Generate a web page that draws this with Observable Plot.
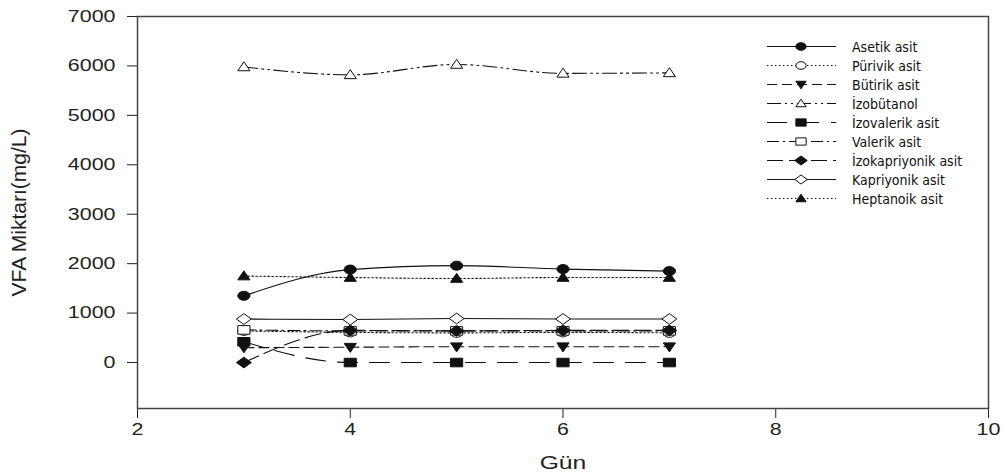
<!DOCTYPE html>
<html><head><meta charset="utf-8">
<script src="https://cdn.jsdelivr.net/npm/d3@7"></script>
<script src="https://cdn.jsdelivr.net/npm/@observablehq/plot@0.6"></script>
<style>
body{margin:0;background:#fff;}
#wrap{position:relative;width:1007px;height:476px;}
#legend{position:absolute;left:766px;top:37px;font-family:"Liberation Sans Narrow","Arial Narrow","DejaVu Sans Condensed",sans-serif;font-size:14px;color:#111;}
.row{display:flex;align-items:center;height:19px;white-space:nowrap;}
.row svg{width:72px;height:19px;margin-right:14px;flex:none;}
.row span{display:inline-block;transform-origin:left center;}
</style></head><body><div id="wrap"><div id="legend"></div></div>
<script>
// ---- data ----
const days = [3, 4, 5, 6, 7];
const seriesNames = ["Asetik asit", "Pürivik asit", "Bütirik asit", "İzobütanol", "İzovalerik asit", "Valerik asit", "İzokapriyonik asit", "Kapriyonik asit", "Heptanoik asit"];
const asetik        = [1350, 1880, 1960, 1890, 1850];
const purivik       = [640, 610, 600, 610, 600];
const butirik       = [300, 310, 320, 320, 320];
const izobutanol    = [5980, 5820, 6030, 5850, 5860];
const izovalerik    = [420, 0, 0, 0, 0];
const valerik       = [660, 640, 640, 640, 640];
const izokapriyonik = [0, 650, 640, 650, 650];
const kapriyonik    = [880, 870, 890, 880, 880];
const heptanoik     = [1750, 1720, 1700, 1720, 1720];
const xTicks = [2, 4, 6, 8, 10];
const yTicks = [0, 1000, 2000, 3000, 4000, 5000, 6000, 7000];
const xLabel = "Gün";
const yLabel = "VFA Miktarı(mg/L)";

const seriesValues = [asetik, purivik, butirik, izobutanol, izovalerik, valerik, izokapriyonik, kapriyonik, heptanoik];

// ---- stretched symbols (the original picture is widened horizontally) ----
const SX = 1.35;
const symEllipse = {draw(c, size) { const r = Math.sqrt(size / Math.PI), rx = r * SX, ry = r, k = 0.5523;
  c.moveTo(rx, 0); c.bezierCurveTo(rx, ry * k, rx * k, ry, 0, ry); c.bezierCurveTo(-rx * k, ry, -rx, ry * k, -rx, 0);
  c.bezierCurveTo(-rx, -ry * k, -rx * k, -ry, 0, -ry); c.bezierCurveTo(rx * k, -ry, rx, -ry * k, rx, 0); c.closePath(); }};
const symSquare = {draw(c, size) { const r = Math.sqrt(size / Math.PI), w = r * SX, h = r * 0.95;
  c.moveTo(-w, -h); c.lineTo(w, -h); c.lineTo(w, h); c.lineTo(-w, h); c.closePath(); }};
const symTriUp = {draw(c, size) { const r = Math.sqrt(size / Math.PI), w = r * SX;
  c.moveTo(0, -r * 1.15); c.lineTo(w, r * 0.85); c.lineTo(-w, r * 0.85); c.closePath(); }};
const symTriDown = {draw(c, size) { const r = Math.sqrt(size / Math.PI), w = r * SX;
  c.moveTo(0, r * 1.15); c.lineTo(w, -r * 0.85); c.lineTo(-w, -r * 0.85); c.closePath(); }};
const symDiamond = {draw(c, size) { const r = Math.sqrt(size / Math.PI), w = r * 1.65, h = r * 1.2;
  c.moveTo(-w, 0); c.lineTo(0, -h); c.lineTo(w, 0); c.lineTo(0, h); c.closePath(); }};

// ---- styles per series ----
const styles = [
  {sym: symEllipse, fill: "#111", dash: null},
  {sym: symEllipse, fill: "white", dash: "1.5,2.5"},
  {sym: symTriDown, fill: "#111", dash: "10,5"},
  {sym: symTriUp, fill: "white", dash: "14,4,2,4,2,4"},
  {sym: symSquare, fill: "#111", dash: "20,12"},
  {sym: symSquare, fill: "white", dash: "12,4,2,4"},
  {sym: symDiamond, fill: "#111", dash: "16,6"},
  {sym: symDiamond, fill: "white", dash: null},
  {sym: symTriUp, fill: "#111", dash: "1.5,2.5"}
];
const R = 4.5;

const table = seriesNames.map((name, i) => days.map((d, j) => ({series: name, day: d, value: seriesValues[i][j]})));

const marks = [Plot.frame({stroke: "#444", strokeWidth: 1.5})];
table.forEach((rows, i) => {
  const st = styles[i];
  marks.push(Plot.line(rows, {x: "day", y: "value", curve: "monotone-x", stroke: "#111", strokeWidth: 1.1, strokeDasharray: st.dash}));
  marks.push(Plot.dot(rows, {x: "day", y: "value", symbol: () => st.sym, r: R, fill: st.fill, stroke: "#111", strokeWidth: 1}));
});

const chart = Plot.plot({
  width: 1007, height: 476,
  marginLeft: 137, marginRight: 19, marginTop: 16, marginBottom: 68,
  style: {fontFamily: "'Liberation Sans', Arial, sans-serif", fontSize: "16.5px", color: "#222", background: "white"},
  x: {domain: [2, 10], ticks: xTicks, tickSize: 10, tickPadding: 5, tickFormat: d3.format("d"), label: xLabel, labelAnchor: "center", labelOffset: 60, labelArrow: "none"},
  y: {domain: [-930, 7000], ticks: yTicks, tickSize: 10, tickPadding: 12, tickFormat: d3.format("d"), label: yLabel, labelAnchor: "center", labelOffset: 126, labelArrow: "none"},
  symbol: {type: "identity"},
  marks
});
document.getElementById("wrap").prepend(chart);

// widen the texts like the reference picture
d3.select(chart).selectAll("text").each(function () {
  const t = this.textContent;
  if (t === yLabel) { this.style.fontSize = "21px"; this.style.fontFamily = "'Liberation Sans Narrow', 'Liberation Sans', sans-serif"; return; }
  if (t === xLabel) { this.style.fontSize = "19px"; }
  const w = this.getComputedTextLength();
  this.setAttribute("textLength", (w * 1.3).toFixed(1));
  this.setAttribute("lengthAdjust", "spacingAndGlyphs");
});

// ---- legend ----
const lg = d3.select("#legend");
seriesNames.forEach((name, i) => {
  const st = styles[i];
  const row = lg.append("div").attr("class", "row");
  const s = row.append("svg");
  s.append("line").attr("x1", 1).attr("x2", 70).attr("y1", 9.5).attr("y2", 9.5)
    .attr("stroke", "#111").attr("stroke-width", 1.1).attr("stroke-dasharray", st.dash);
  s.append("path").attr("transform", "translate(35,9.5)").attr("d", d3.symbol(st.sym, Math.PI * 3.8 * 3.8)())
    .attr("fill", st.fill).attr("stroke", "#111");
  row.append("span").text(name);
});
</script></body></html>
